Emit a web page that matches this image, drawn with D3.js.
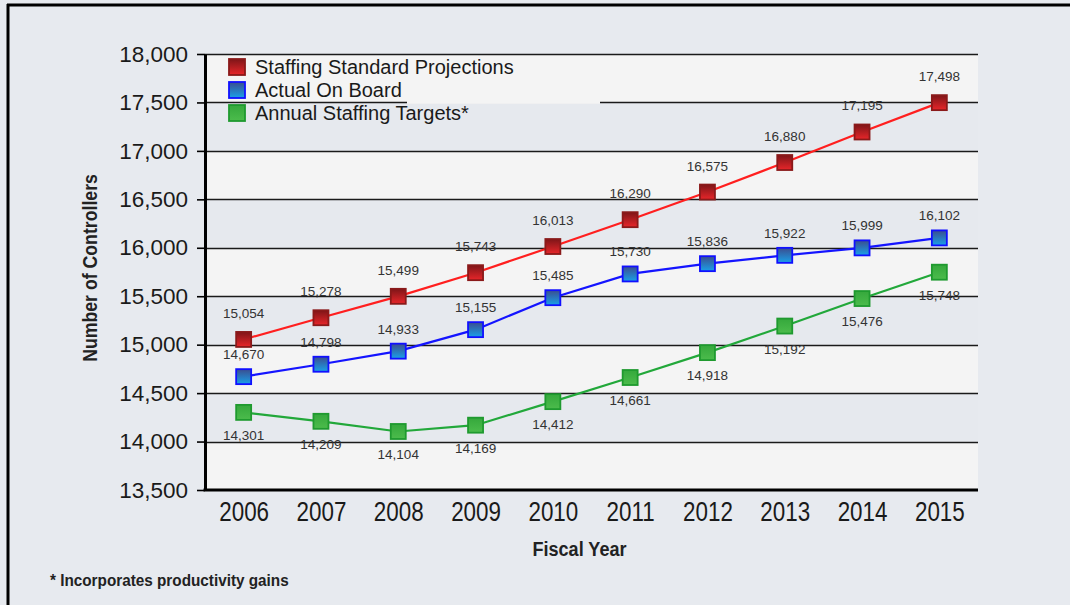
<!DOCTYPE html>
<html>
<head>
<meta charset="utf-8">
<script src="https://cdn.jsdelivr.net/npm/d3@7"></script>
<style>
  html, body { margin: 0; padding: 0; background: #e7eaef; }
  svg { display: block; }
</style>
</head>
<body>
<svg id="chart" width="1070" height="605"></svg>
<script>
// ---------- data ----------
const years = ["2006","2007","2008","2009","2010","2011","2012","2013","2014","2015"];
const projections = [15054,15278,15499,15743,16013,16290,16575,16880,17195,17498];
const actualOnBoard = [14670,14798,14933,15155,15485,15730,15836,15922,15999,16102];
const staffingTargets = [14301,14209,14104,14169,14412,14661,14918,15192,15476,15748];
const yTicks = [13500,14000,14500,15000,15500,16000,16500,17000,17500,18000];
const seriesNames = ["Staffing Standard Projections","Actual On Board","Annual Staffing Targets*"];
const xTitle = "Fiscal Year";
const yTitle = "Number of Controllers";
const footnote = "* Incorporates productivity gains";

// ---------- layout ----------
const svg = d3.select("#chart");
const L = 205, R = 978, T = 54, B = 490;
const sans = "'Liberation Sans',Arial,sans-serif";

const x = d3.scalePoint().domain(years).range([L, R]).padding(0.5);
const y = d3.scaleLinear().domain([13500, 18000]).range([B, T]);

// background
svg.append("rect").attr("width",1070).attr("height",605).attr("fill","#e7eaef");

// frame lines
svg.append("line").attr("x1",7).attr("x2",1070).attr("y1",5).attr("y2",5)
  .attr("stroke","#000").attr("stroke-width",3);
svg.append("line").attr("x1",8).attr("x2",8).attr("y1",4).attr("y2",605)
  .attr("stroke","#000").attr("stroke-width",3);

// bands
const bands = yTicks.slice(0,-1).map((v,i)=>({lo:v, hi:yTicks[i+1], i}));
svg.append("g").selectAll("rect").data(bands).join("rect")
  .attr("x", L).attr("width", R - L)
  .attr("y", d => y(d.hi)).attr("height", d => y(d.lo) - y(d.hi))
  .attr("fill", d => (d.i % 2 === 0) ? "#f4f4f4" : "#e6e9ee");

// gridlines
svg.append("g").selectAll("line").data(yTicks.slice(1)).join("line")
  .attr("x1", L).attr("x2", R)
  .attr("y1", d => Math.round(y(d)) + 0.5).attr("y2", d => Math.round(y(d)) + 0.5)
  .attr("stroke", "#1a1a1a").attr("stroke-width", 1.6);

// legend background (covers part of the top grid line as in the original)
svg.append("rect").attr("x", 407).attr("y", T + 2).attr("width", 193).attr("height", y(17500) - T - 0.5)
  .attr("fill", "#f4f4f4");

// y axis
const yAxis = d3.axisLeft(y).tickValues(yTicks).tickSize(8).tickSizeOuter(0)
  .tickFormat(d3.format(","));
const gy = svg.append("g").attr("transform", `translate(${L},0)`).call(yAxis);
gy.select(".domain").attr("stroke","#000").attr("stroke-width",3);
gy.selectAll(".tick line").attr("stroke","#000").attr("stroke-width",1.6);
gy.selectAll(".tick text").attr("x",-17).attr("font-family",sans).attr("font-size","22.5px").attr("fill","#1a1a1a");

// x axis
const xAxis = d3.axisBottom(x).tickSize(0).tickSizeOuter(0);
const gx = svg.append("g").attr("transform", `translate(0,${B})`).call(xAxis);
gx.select(".domain").attr("stroke","#000").attr("stroke-width",3)
  .attr("d", `M${L-1.5},0H${R}`);
gx.selectAll(".tick text").attr("y",0).attr("dy",0)
  .attr("transform","translate(0,31) scale(0.83,1)")
  .attr("font-family",sans).attr("font-size","27px").attr("fill","#1a1a1a");

// axis titles (condensed bold)
svg.append("text").attr("transform", `translate(${(L+R)/2 - 12},556) scale(0.86,1)`).attr("text-anchor","middle")
  .attr("font-family",sans).attr("font-weight","bold").attr("font-size","21px").attr("fill","#222")
  .text(xTitle);
svg.append("text").attr("transform","translate(97,268) rotate(-90) scale(0.885,1)").attr("text-anchor","middle")
  .attr("font-family",sans).attr("font-weight","bold").attr("font-size","20px").attr("fill","#222")
  .text(yTitle);
svg.append("text").attr("transform","translate(50,586) scale(0.9,1)")
  .attr("font-family",sans).attr("font-weight","bold").attr("font-size","17px").attr("fill","#222")
  .text(footnote);

// gradients
const defs = svg.append("defs");
const grads = [
  {id:"gRed", top:"#7e1518", bot:"#e8262a"},
  {id:"gBlue", top:"#3b4d8f", bot:"#1aa0e8"},
  {id:"gGreen", top:"#35a83c", bot:"#4cbc4c"}
];
grads.forEach(g => {
  const lg = defs.append("linearGradient").attr("id", g.id).attr("x1",0).attr("y1",0).attr("x2",0).attr("y2",1);
  lg.append("stop").attr("offset","0%").attr("stop-color", g.top);
  lg.append("stop").attr("offset","100%").attr("stop-color", g.bot);
});

const series = [
  {name: seriesNames[0], values: projections, line:"#ff1f1f", fill:"url(#gRed)", stroke:"#8a1a1a", dy:-26},
  {name: seriesNames[1], values: actualOnBoard, line:"#1414ff", fill:"url(#gBlue)", stroke:"#1010ff", dy:-22},
  {name: seriesNames[2], values: staffingTargets, line:"#22a83a", fill:"url(#gGreen)", stroke:"#1f9a2f", dy:23}
];

const line = d3.line().x((d,i)=>x(years[i])).y(d=>y(d));
const ms = 15;
series.forEach(s => {
  svg.append("path").datum(s.values).attr("d", line).attr("fill","none")
    .attr("stroke", s.line).attr("stroke-width", 2.2);
  svg.append("g").selectAll("rect").data(s.values).join("rect")
    .attr("x",(d,i)=>x(years[i]) - ms/2).attr("y", d=>y(d) - ms/2)
    .attr("width", ms).attr("height", ms)
    .attr("fill", s.fill).attr("stroke", s.stroke).attr("stroke-width", 1.8);
  svg.append("g").selectAll("text").data(s.values).join("text")
    .attr("x",(d,i)=>x(years[i])).attr("y", d=>y(d) + s.dy)
    .attr("dominant-baseline","central").attr("text-anchor","middle")
    .attr("font-family",sans).attr("font-size","13.5px").attr("fill","#333")
    .text(d=>d3.format(",")(d));
});

// legend
const lg = svg.append("g");
series.forEach((s,i) => {
  const cy = 67 + i*23;
  lg.append("rect").attr("x", 229).attr("y", cy - 8).attr("width", 16).attr("height", 16)
    .attr("fill", s.fill).attr("stroke", s.stroke).attr("stroke-width", 1.8);
  lg.append("text").attr("x", 255).attr("y", cy).attr("dominant-baseline","central")
    .attr("font-family",sans).attr("font-size","20px").attr("fill","#1a1a1a").text(s.name);
});
</script>
</body>
</html>
